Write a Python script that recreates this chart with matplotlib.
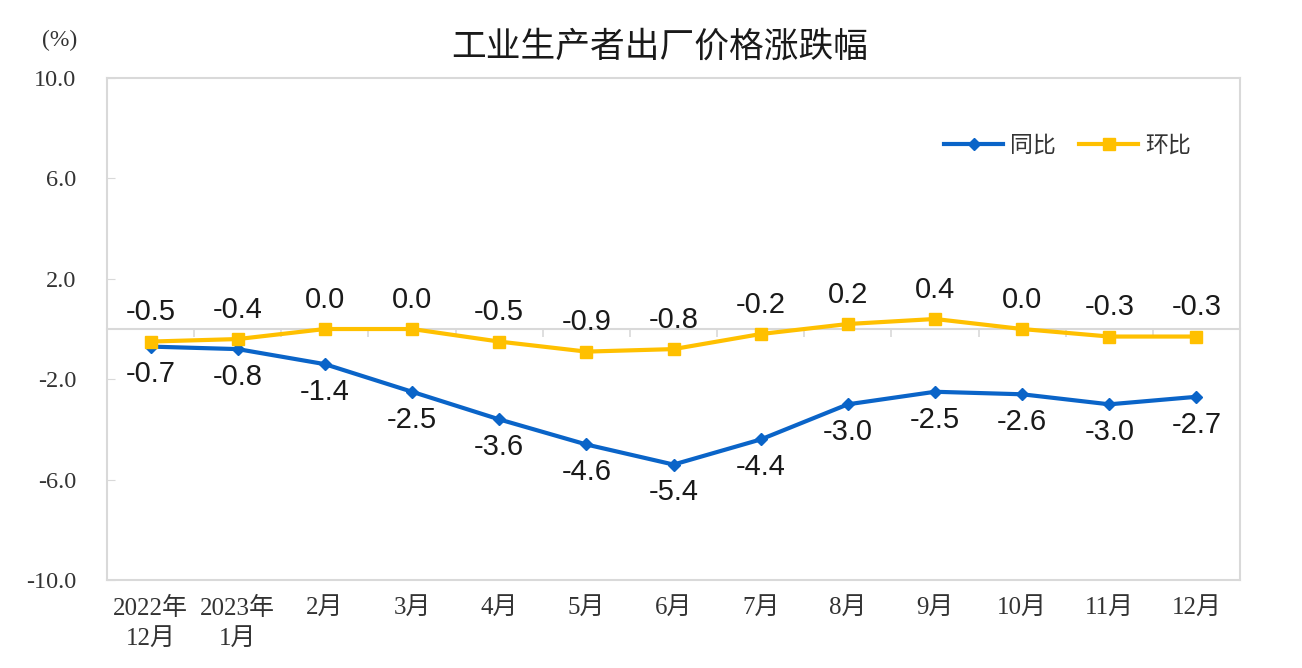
import matplotlib
matplotlib.use('Agg')
import matplotlib.pyplot as plt

months = ['2022年\n12月', '2023年\n1月', '2月', '3月', '4月', '5月', '6月',
          '7月', '8月', '9月', '10月', '11月', '12月']
yoy = [-0.7, -0.8, -1.4, -2.5, -3.6, -4.6, -5.4, -4.4, -3.0, -2.5, -2.6, -3.0, -2.7]
mom = [-0.5, -0.4, 0.0, 0.0, -0.5, -0.9, -0.8, -0.2, 0.2, 0.4, 0.0, -0.3, -0.3]
yticks = [-10, -6, -2, 2, 6, 10]

plt.rcParams['font.family'] = ['Liberation Sans', 'Noto Sans CJK SC', 'DejaVu Sans']
blue = '#0a64c8'
gold = '#ffc000'
grid_c = '#d9d9d9'

fig = plt.figure(figsize=(13.02, 6.68), dpi=100)
ax = fig.add_axes([0.0822, 0.1317, 0.8702, 0.7515])

x = list(range(len(months)))
ax.plot(x, yoy, color=blue, lw=3, marker='D', ms=6, label='同比')
ax.plot(x, mom, color=gold, lw=3, marker='s', ms=8, label='环比')

for i in x:
    ax.annotate(f'{yoy[i]:.1f}', (i, yoy[i]), xytext=(0, -20), textcoords='offset points',
                ha='center', va='center', fontsize=21, color='#1a1a1a')
    ax.annotate(f'{mom[i]:.1f}', (i, mom[i]), xytext=(0, 21), textcoords='offset points',
                ha='center', va='center', fontsize=21, color='#1a1a1a')

ax.set_xlim(-0.5, len(months) - 0.5)
ax.set_ylim(-10, 10)
ax.set_yticks(yticks)
ax.set_yticklabels([f'{v:.1f}' for v in yticks], family='Liberation Serif',
                   fontsize=17.5, color='#333333')
ax.tick_params(axis='y', direction='in', length=6, color=grid_c, pad=22)
ax.set_xticks(x)
ax.set_xticklabels(months, fontsize=18, color='#333333', linespacing=1.45,
                   family=['Liberation Serif', 'Noto Sans CJK SC'])
ax.tick_params(axis='x', length=0, pad=12)
for s in ax.spines.values():
    s.set_color(grid_c)
    s.set_linewidth(1.5)

# zero line with category ticks
zero = ax.secondary_xaxis(0.5)
zero.set_xticks([i + 0.5 for i in x[:-1]])
zero.set_xticklabels([])
zero.tick_params(direction='in', length=6, color=grid_c, width=1.2)
for s in zero.spines.values():
    s.set_color(grid_c)
    s.set_linewidth(1.5)

ax.legend(loc='upper right', bbox_to_anchor=(0.975, 0.93), ncol=2, frameon=False,
          fontsize=16.5, handlelength=2.6, columnspacing=1.0, handletextpad=0.3,
          labelcolor='#333333')

fig.text(0.507, 0.93, '工业生产者出厂价格涨跌幅', ha='center', va='center',
         fontsize=25, family='Noto Sans CJK SC', fontweight='medium', color='#1a1a1a')
fig.text(0.046, 0.94, '(%)', ha='center', va='center', fontsize=17,
         family='Liberation Serif', color='#333333')

fig.savefig('out.png', dpi=100)
